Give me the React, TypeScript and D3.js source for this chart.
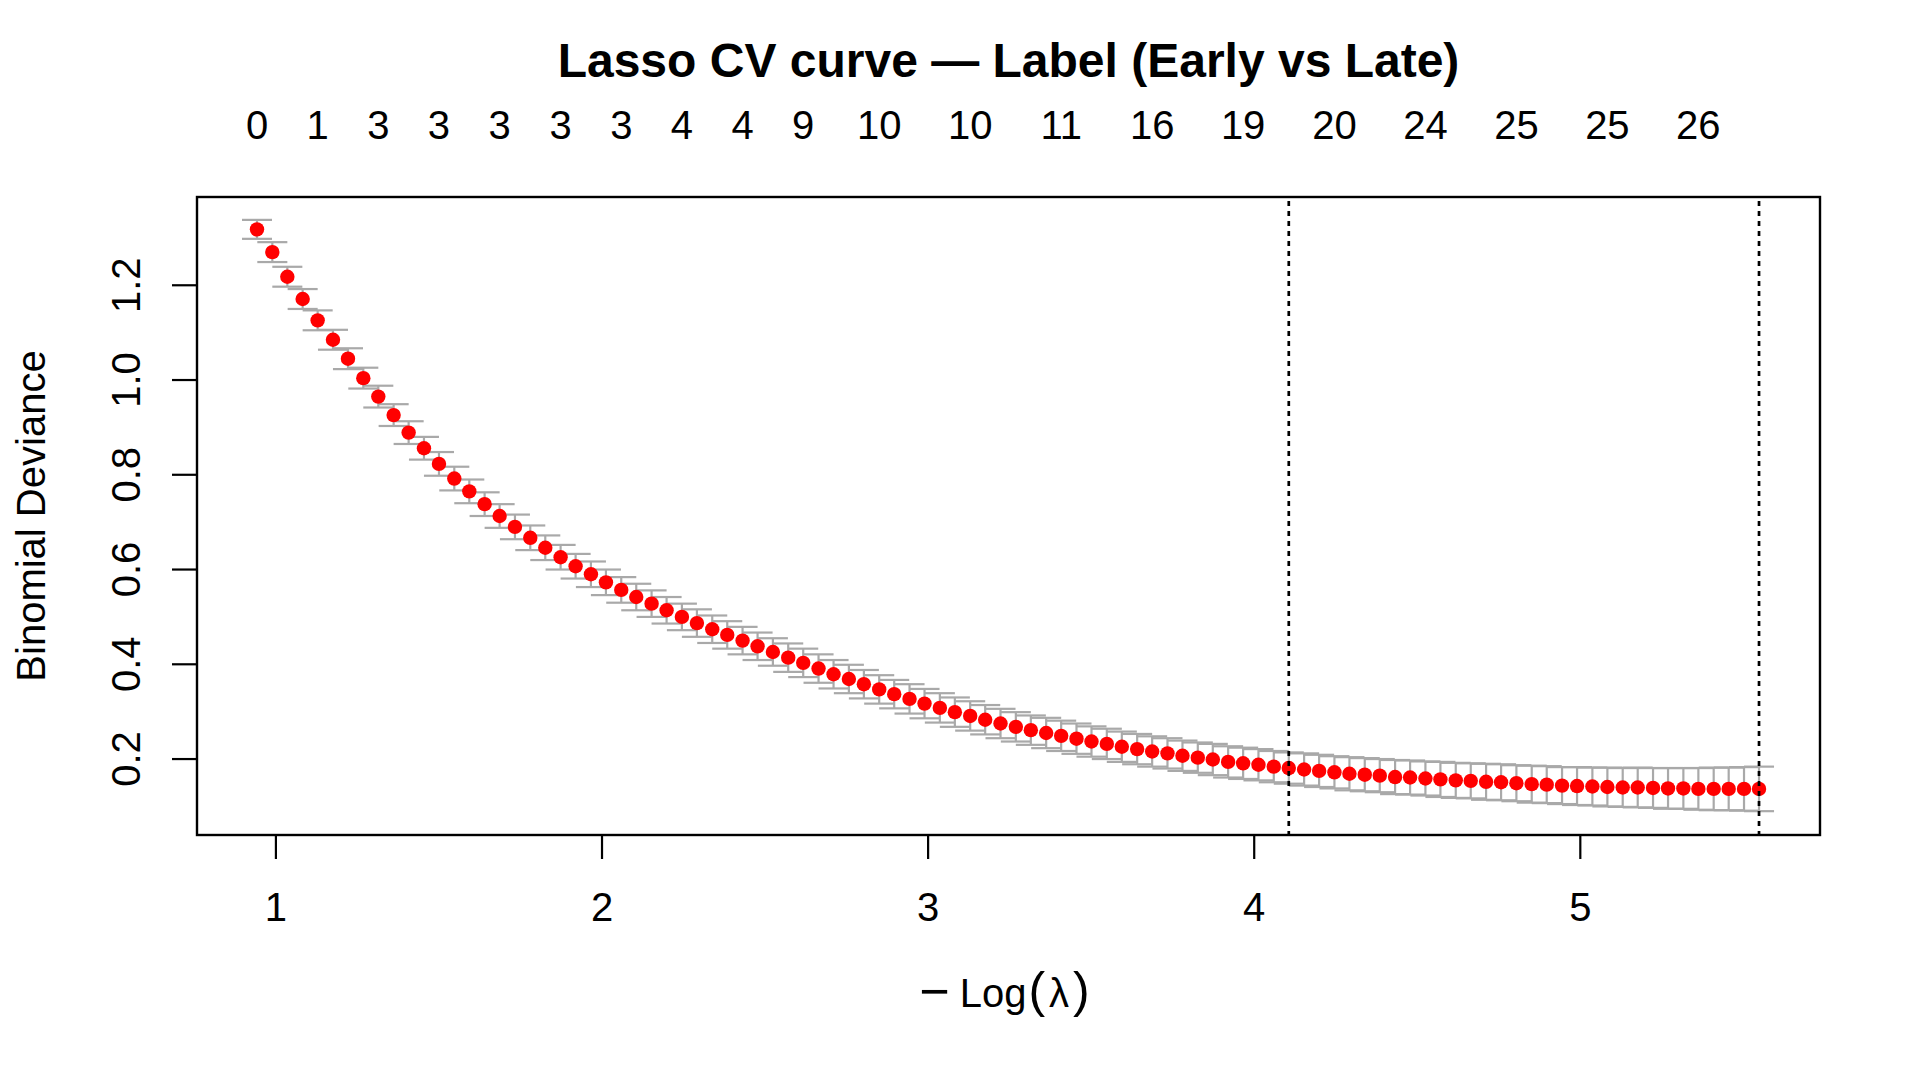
import React, { useEffect, useRef } from "react";
import * as d3 from "d3";

// -log(lambda) grid of the glmnet path (100 values)
const logLambda: number[] = [
  0.942, 0.989, 1.035, 1.082, 1.128, 1.175, 1.221, 1.268, 1.314, 1.361,
  1.407, 1.454, 1.5, 1.547, 1.593, 1.64, 1.686, 1.733, 1.78, 1.826,
  1.873, 1.919, 1.966, 2.012, 2.059, 2.105, 2.152, 2.198, 2.245, 2.291,
  2.338, 2.384, 2.431, 2.477, 2.524, 2.571, 2.617, 2.664, 2.71, 2.757,
  2.803, 2.85, 2.896, 2.943, 2.989, 3.036, 3.082, 3.129, 3.175, 3.222,
  3.269, 3.315, 3.362, 3.408, 3.455, 3.501, 3.548, 3.594, 3.641, 3.687,
  3.734, 3.78, 3.827, 3.873, 3.92, 3.966, 4.013, 4.06, 4.106, 4.153,
  4.199, 4.246, 4.292, 4.339, 4.385, 4.432, 4.478, 4.525, 4.571, 4.618,
  4.664, 4.711, 4.757, 4.804, 4.851, 4.897, 4.944, 4.99, 5.037, 5.083,
  5.13, 5.176, 5.223, 5.269, 5.316, 5.362, 5.409, 5.455, 5.502, 5.548,
];

// mean cross-validated binomial deviance
const cvMean: number[] = [
  1.318, 1.27, 1.218, 1.171, 1.126, 1.085, 1.045, 1.004, 0.965, 0.926,
  0.889, 0.856, 0.823, 0.792, 0.765, 0.738, 0.713, 0.69, 0.667, 0.646,
  0.626, 0.607, 0.59, 0.573, 0.557, 0.542, 0.528, 0.514, 0.5, 0.487,
  0.474, 0.462, 0.45, 0.438, 0.426, 0.414, 0.403, 0.391, 0.379, 0.369,
  0.358, 0.347, 0.337, 0.327, 0.317, 0.308, 0.299, 0.291, 0.283, 0.275,
  0.268, 0.261, 0.255, 0.249, 0.243, 0.237, 0.232, 0.226, 0.221, 0.216,
  0.212, 0.207, 0.203, 0.199, 0.194, 0.191, 0.188, 0.184, 0.181, 0.178,
  0.175, 0.172, 0.169, 0.167, 0.165, 0.162, 0.161, 0.159, 0.157, 0.155,
  0.154, 0.152, 0.151, 0.149, 0.147, 0.146, 0.144, 0.143, 0.142, 0.141,
  0.14, 0.14, 0.139, 0.138, 0.138, 0.137, 0.137, 0.137, 0.137, 0.137,
];

// standard error of the cv deviance
const cvSe: number[] = [
  0.02, 0.021, 0.021, 0.021, 0.021, 0.021, 0.022, 0.022, 0.023, 0.023,
  0.024, 0.024, 0.025, 0.025, 0.025, 0.025, 0.025, 0.026, 0.026, 0.026,
  0.026, 0.026, 0.027, 0.027, 0.027, 0.028, 0.028, 0.028, 0.028, 0.029,
  0.029, 0.029, 0.029, 0.029, 0.029, 0.03, 0.03, 0.03, 0.03, 0.03,
  0.03, 0.03, 0.03, 0.031, 0.031, 0.031, 0.031, 0.031, 0.031, 0.031,
  0.031, 0.031, 0.032, 0.032, 0.032, 0.032, 0.032, 0.032, 0.032, 0.032,
  0.032, 0.032, 0.032, 0.033, 0.033, 0.033, 0.033, 0.033, 0.033, 0.034,
  0.034, 0.034, 0.035, 0.035, 0.035, 0.036, 0.036, 0.036, 0.037, 0.037,
  0.037, 0.038, 0.038, 0.038, 0.039, 0.039, 0.039, 0.04, 0.04, 0.041,
  0.041, 0.042, 0.042, 0.043, 0.043, 0.044, 0.045, 0.045, 0.046, 0.047,
];

// number of non-zero coefficients shown on the top axis
const topIndex = [0, 4, 8, 12, 16, 20, 24, 28, 32, 36, 41, 47, 53, 59, 65, 71, 77, 83, 89, 95];
const topLabels = ["0", "1", "3", "3", "3", "3", "3", "4", "4", "9", "10", "10", "11", "16", "19", "20", "24", "25", "25", "26"];

const xTicks = [1, 2, 3, 4, 5];
const yTicks = [0.2, 0.4, 0.6, 0.8, 1.0, 1.2];

// lambda.1se and lambda.min
const lambdaLineIndex = [68, 99];

const title = "Lasso CV curve \u2014 Label (Early vs Late)";
const yTitle = "Binomial Deviance";

const W = 1920;
const H = 1080;
const FONT = "'Liberation Sans', Arial, Helvetica, sans-serif";

const App: React.FC = () => {
  const svgRef = useRef<SVGSVGElement | null>(null);

  useEffect(() => {
    if (!svgRef.current) return;
    const svg = d3.select(svgRef.current);
    svg.selectAll("*").remove();

    const box = { left: 197, right: 1820, top: 197, bottom: 835 };

    const x = d3.scaleLinear().domain([0.758, 5.735]).range([box.left, box.right]);
    const y = d3.scaleLinear().domain([0.0397, 1.3863]).range([box.bottom, box.top]);

    const [xMin, xMax] = d3.extent(logLambda) as [number, number];
    const capHalf = (xMax - xMin) * 0.01;

    svg.append("rect").attr("width", W).attr("height", H).attr("fill", "#fff");

    const g = svg.append("g");

    // error bars
    const bars = g.append("g").attr("stroke", "#a9a9a9").attr("stroke-width", 2.2).attr("fill", "none");
    logLambda.forEach((lx, i) => {
      const up = cvMean[i] + cvSe[i];
      const lo = cvMean[i] - cvSe[i];
      bars.append("line").attr("x1", x(lx)).attr("x2", x(lx)).attr("y1", y(up)).attr("y2", y(lo));
      bars.append("line").attr("x1", x(lx - capHalf)).attr("x2", x(lx + capHalf)).attr("y1", y(up)).attr("y2", y(up));
      bars.append("line").attr("x1", x(lx - capHalf)).attr("x2", x(lx + capHalf)).attr("y1", y(lo)).attr("y2", y(lo));
    });

    // points
    g.append("g")
      .selectAll("circle")
      .data(logLambda)
      .enter()
      .append("circle")
      .attr("cx", (d) => x(d))
      .attr("cy", (_d, i) => y(cvMean[i]))
      .attr("r", 7.2)
      .attr("fill", "#ff0000");

    // vertical dotted lines
    g.append("g")
      .selectAll("line")
      .data(lambdaLineIndex)
      .enter()
      .append("line")
      .attr("x1", (i) => x(logLambda[i]))
      .attr("x2", (i) => x(logLambda[i]))
      .attr("y1", box.top)
      .attr("y2", box.bottom)
      .attr("stroke", "#000")
      .attr("stroke-width", 2.7)
      .attr("stroke-dasharray", "5 5")
      .attr("stroke-dashoffset", -4);

    // plot box
    g.append("rect")
      .attr("x", box.left)
      .attr("y", box.top)
      .attr("width", box.right - box.left)
      .attr("height", box.bottom - box.top)
      .attr("fill", "none")
      .attr("stroke", "#000")
      .attr("stroke-width", 2.4);

    // bottom axis
    const xAxis = g.append("g").attr("font-family", FONT).attr("font-size", 40);
    xTicks.forEach((t) => {
      xAxis.append("line")
        .attr("x1", x(t)).attr("x2", x(t))
        .attr("y1", box.bottom).attr("y2", box.bottom + 24)
        .attr("stroke", "#000").attr("stroke-width", 2.2);
      xAxis.append("text")
        .attr("x", x(t)).attr("y", 921)
        .attr("text-anchor", "middle")
        .text(String(t));
    });

    // left axis
    const yAxis = g.append("g").attr("font-family", FONT).attr("font-size", 40);
    yTicks.forEach((t) => {
      yAxis.append("line")
        .attr("x1", box.left - 25).attr("x2", box.left)
        .attr("y1", y(t)).attr("y2", y(t))
        .attr("stroke", "#000").attr("stroke-width", 2.2);
      yAxis.append("text")
        .attr("transform", `translate(140,${y(t)}) rotate(-90)`)
        .attr("text-anchor", "middle")
        .text(d3.format(".1f")(t));
    });

    // top axis: non-zero counts
    const topAxis = g.append("g").attr("font-family", FONT).attr("font-size", 40);
    topIndex.forEach((idx, k) => {
      topAxis.append("text")
        .attr("x", x(logLambda[idx]))
        .attr("y", 139)
        .attr("text-anchor", "middle")
        .text(topLabels[k]);
    });

    const cx = (box.left + box.right) / 2;
    const cy = (box.top + box.bottom) / 2;

    svg.append("text")
      .attr("x", cx).attr("y", 77)
      .attr("text-anchor", "middle")
      .attr("font-family", FONT)
      .attr("font-size", 48)
      .attr("font-weight", "bold")
      .text(title);

    // x title, plotmath style: − Log(λ) with tall parentheses
    const xt = svg.append("text")
      .attr("x", cx - 4).attr("y", 1007)
      .attr("text-anchor", "middle")
      .attr("font-family", FONT)
      .attr("font-size", 40);
    xt.append("tspan").attr("font-size", 52).attr("dy", 2).text("\u2212");
    xt.append("tspan").attr("dx", 10).attr("dy", -2).text("Log");
    xt.append("tspan").attr("font-size", 50).attr("dx", 2).text("(");
    xt.append("tspan").attr("dx", 4).text("\u03bb");
    xt.append("tspan").attr("font-size", 50).attr("dx", 4).text(")");

    svg.append("text")
      .attr("transform", `translate(45,${cy}) rotate(-90)`)
      .attr("text-anchor", "middle")
      .attr("font-family", FONT)
      .attr("font-size", 40)
      .text(yTitle);
  }, []);

  return (
    <div style={{ position: "absolute", left: 0, top: 0, width: W, height: H, background: "#fff" }}>
      <svg ref={svgRef} width={W} height={H}></svg>
    </div>
  );
};

export default App;
